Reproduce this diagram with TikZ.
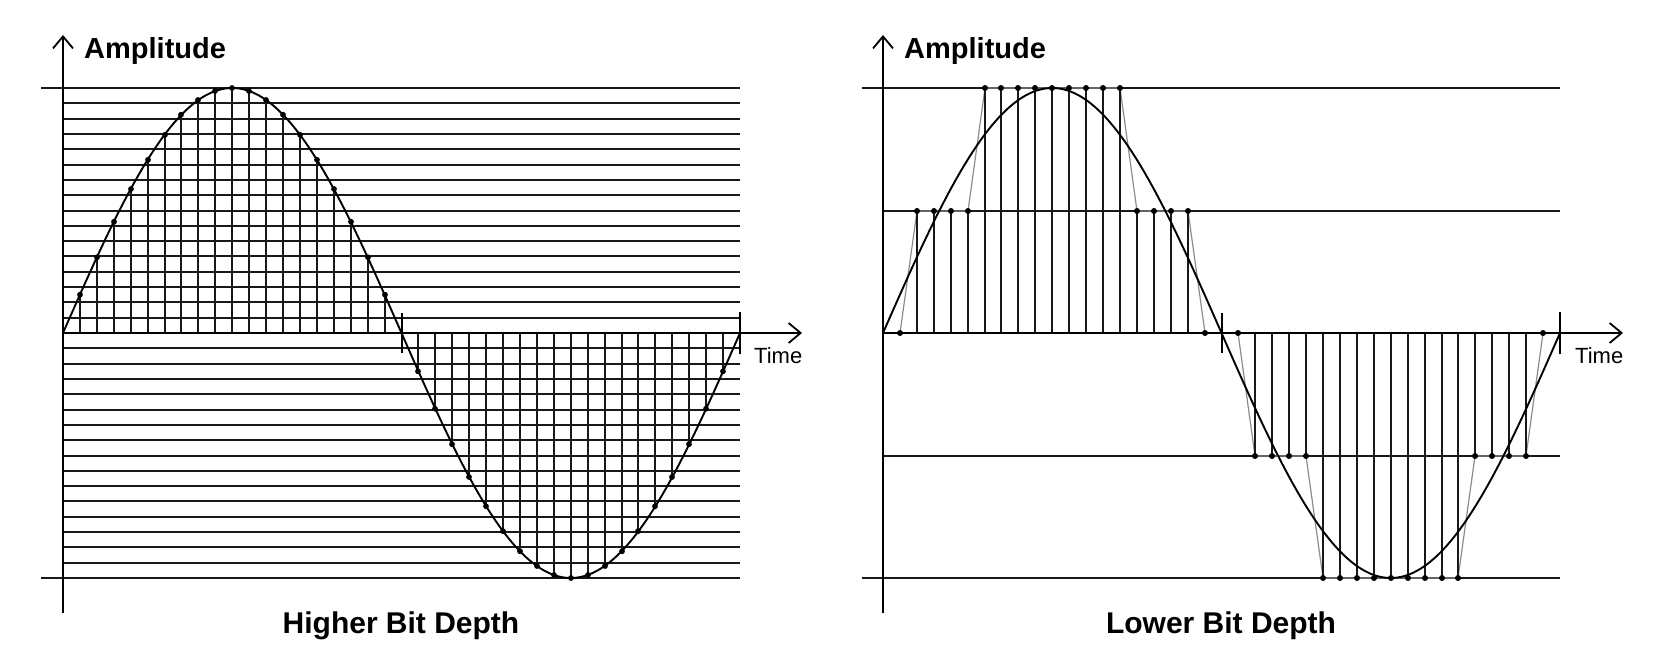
\documentclass[tikz,border=0pt]{standalone}
\usepackage{fontspec}
\setmainfont{Liberation Sans}
\usetikzlibrary{arrows.meta}
\begin{document}
\begin{tikzpicture}[x=1pt,y=-1pt,
  gridline/.style={line width=2pt,black!90},
  sampleline/.style={line width=1.9pt,black!90},
  curveline/.style={line width=1.9pt,black},
  qline/.style={line width=1.2pt,black!45},
  axisline/.style={line width=1.8pt,black},
  arrowaxis/.style={axisline,-{Straight Barb[length=12pt,width=20pt,line width=1.8pt]}},
  tickline/.style={line width=1.6pt,black},
  title/.style={font=\fontsize{30}{36}\selectfont\bfseries,inner sep=0pt},
  ylab/.style={font=\fontsize{29}{34}\selectfont\bfseries,inner sep=0pt},
  tlab/.style={font=\fontsize{22}{26}\selectfont,inner sep=0pt},
  dot/.style={black}]
\useasboundingbox (0,0) rectangle (1656,660);
\fill[white] (0,0) rectangle (1656,660);

% ---------------- Left panel: higher bit depth ----------------
\foreach \i in {-15,...,-1,1,2,...,15}
  \draw[gridline] (63,{round(333-\i*15.3125)}) -- (740,{round(333-\i*15.3125)});
\draw[gridline] (41,88) -- (740,88);
\draw[gridline] (41,578) -- (740,578);

\foreach \k in {1,...,19,21,22,...,39}{
  \pgfmathsetmacro\xx{round(63+\k*16.925)}
  \pgfmathsetmacro\yy{333-245*sin(9*\k)}
  \draw[sampleline] (\xx,333) -- (\xx,\yy);
  \fill[dot] (\xx,\yy) circle[radius=2.9pt];
}
\draw[curveline] plot[domain=0:360,samples=181,smooth] ({63+\x*1.880556},{333-245*sin(\x)});

\coordinate (Lmid) at (402,333);
\coordinate (Lend) at (740,333);
\draw[tickline] ([yshift=-20pt]Lmid) -- ([yshift=20pt]Lmid);
\draw[tickline] ([yshift=-21pt]Lend) -- ([yshift=21pt]Lend);

\coordinate (LyB) at (63,613);
\coordinate (LyT) at (63,35);
\coordinate (LxO) at (63,333);
\coordinate (LxE) at (802,333);
\draw[arrowaxis] (LyB) -- (LyT);
\draw[arrowaxis] (LxO) -- (LxE);

\node[ylab,anchor=base west] (ampL) at (84,59) {Amplitude};
\node[tlab,anchor=base west] (timeL) at (754,363) {Time};
\node[title,anchor=base] (titleL) at (401,633) {Higher Bit Depth};

% ---------------- Right panel: lower bit depth ----------------
\foreach \i in {-1,1}
  \draw[gridline] (883,{round(333-\i*122.5)}) -- (1560,{round(333-\i*122.5)});
\draw[gridline] (862,88) -- (1560,88);
\draw[gridline] (862,578) -- (1560,578);

\draw[qline] (883,333) \foreach \k in {1,...,40}{ -- ({round(883+\k*16.925)},{round(333-122.5*round(2*sin(9*\k)))}) };

\foreach \k in {1,...,19,21,22,...,39}{
  \pgfmathsetmacro\xx{round(883+\k*16.925)}
  \pgfmathsetmacro\yy{round(333-122.5*round(2*sin(9*\k)))}
  \draw[sampleline] (\xx,333) -- (\xx,\yy);
  \fill[dot] (\xx,\yy) circle[radius=3pt];
}
\draw[curveline] plot[domain=0:360,samples=181,smooth] ({883+\x*1.880556},{333-245*sin(\x)});

\coordinate (Rmid) at (1222,333);
\coordinate (Rend) at (1560,333);
\draw[tickline] ([yshift=-20pt]Rmid) -- ([yshift=20pt]Rmid);
\draw[tickline] ([yshift=-21pt]Rend) -- ([yshift=21pt]Rend);

\coordinate (RyB) at (883,613);
\coordinate (RyT) at (883,35);
\coordinate (RxO) at (883,333);
\coordinate (RxE) at (1623,333);
\draw[arrowaxis] (RyB) -- (RyT);
\draw[arrowaxis] (RxO) -- (RxE);

\node[ylab,anchor=base west] (ampR) at (904,59) {Amplitude};
\node[tlab,anchor=base west] (timeR) at (1575,363) {Time};
\node[title,anchor=base] (titleR) at (1221,633) {Lower Bit Depth};
\end{tikzpicture}
\end{document}
